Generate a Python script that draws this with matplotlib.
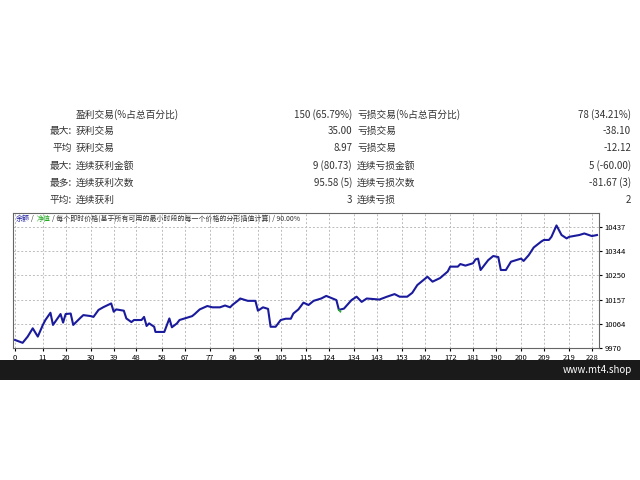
import matplotlib
matplotlib.use("Agg")
import matplotlib.pyplot as plt

plt.rcParams['font.family'] = ['Noto Sans CJK SC', 'DejaVu Sans']

trade_idx = [0,3,5,7,9,11,12,14,15,18,19,20,22,23,26,27,30,31,33,35,38,39,40,43,44,46,47,50,51,52,53,55,55.5,59,61,62,64,65,67,70,71,73,76,78,81,83,85,86,88,89,92,95,96,98,100,101,103,105,107,109,110,112,114,116,118,121,123,127,128,130,133,135,137,139,144,147,150,152,155,157,159,163,165,168,171,172,175,176,178,181,182,183,184,187,189,191,192,194,196,198,200,201,203,205,208,209,211,212,214,216,218,219,223,225,228,230]
balance = [10001,9990,10014,10046,10014,10059,10078,10106,10059,10101,10068,10101,10103,10059,10088,10097,10093,10090,10117,10128,10142,10110,10119,10114,10084,10070,10078,10078,10090,10055,10065,10052,10032,10032,10084,10050,10065,10078,10084,10093,10101,10119,10132,10127,10127,10134,10127,10137,10152,10161,10152,10152,10114,10127,10121,10052,10052,10078,10083,10083,10103,10119,10145,10136,10152,10161,10171,10155,10117,10122,10155,10168,10148,10161,10157,10168,10178,10168,10168,10183,10213,10245,10226,10240,10265,10284,10284,10294,10288,10297,10312,10315,10271,10309,10325,10321,10271,10271,10303,10309,10315,10306,10328,10358,10381,10387,10387,10399,10443,10406,10393,10399,10406,10412,10402,10406]
xticks = [0,11,20,30,39,48,58,67,77,86,96,105,115,124,134,143,153,162,172,181,190,200,209,219,228]
yticks = [9970,10064,10157,10250,10344,10437]

rows = [
    ("", "盈利交易(%占总百分比)", "150 (65.79%)", "亏损交易(%占总百分比)", "78 (34.21%)"),
    ("最大:", "获利交易", "35.00", "亏损交易", "-38.10"),
    ("平均", "获利交易", "8.97", "亏损交易", "-12.12"),
    ("最大:", "连续获利金额", "9 (80.73)", "连续亏损金额", "5 (-60.00)"),
    ("最多:", "连续获利次数", "95.58 (5)", "连续亏损次数", "-81.67 (3)"),
    ("平均:", "连续获利", "3", "连续亏损", "2"),
]
rows_y = [115, 131, 148, 166, 183, 200]

fig = plt.figure(figsize=(6.4, 4.8), dpi=100)
tc = '#333333'
for (a, b, c, d, e), y in zip(rows, rows_y):
    fy = 1 - y / 480
    fig.text(72/640, fy, a, ha='right', va='center', fontsize=7, color=tc)
    fig.text(76/640, fy, b, ha='left', va='center', fontsize=7, color=tc)
    fig.text(352/640, fy, c, ha='right', va='center', fontsize=7, color=tc)
    fig.text(357/640, fy, d, ha='left', va='center', fontsize=7, color=tc)
    fig.text(631/640, fy, e, ha='right', va='center', fontsize=7, color=tc)

ax = fig.add_axes([13/640, 1-348/480, 586/640, 135/480])
ax.plot(trade_idx, balance, color='#1a1a9c', lw=1.5)
ax.plot([128, 128.6], [10117, 10110], color='#22aa22', lw=1.2)
ax.set_xlim(-0.8, 230.8)
ax.set_ylim(9970, 10491)
ax.set_xticks(xticks)
ax.set_yticks(yticks)
ax.yaxis.tick_right()
ax.tick_params(labelsize=5.5, length=2, pad=2, colors='black')
ax.grid(True, ls=(0, (2, 2)), color='#bbbbbb', lw=0.7)
for s in ax.spines.values():
    s.set_color('#666666'); s.set_linewidth(0.8)
ty = 0.985
ax.text(0.005, ty, "余额", color='#1a1a9c', fontsize=5, transform=ax.transAxes, va='top')
ax.text(0.031, ty, "/", color='#333333', fontsize=5, transform=ax.transAxes, va='top')
ax.text(0.040, ty, "净值", color='#22aa22', fontsize=5, transform=ax.transAxes, va='top')
ax.text(0.066, ty, "/ 每个即时价格(基于所有可用的最小时段的每一个价格的分形插值计算) / 90.00%",
        color='#333333', fontsize=5, transform=ax.transAxes, va='top')

bar = fig.add_axes([0, 1-380/480, 1, 20/480])
bar.set_facecolor('#1a1a1a')
bar.set_xticks([]); bar.set_yticks([])
for s in bar.spines.values():
    s.set_visible(False)
bar.text(0.988, 0.5, "www.mt4.shop", color='white', fontsize=7, ha='right', va='center', transform=bar.transAxes)

fig.savefig("out.png", dpi=100)
